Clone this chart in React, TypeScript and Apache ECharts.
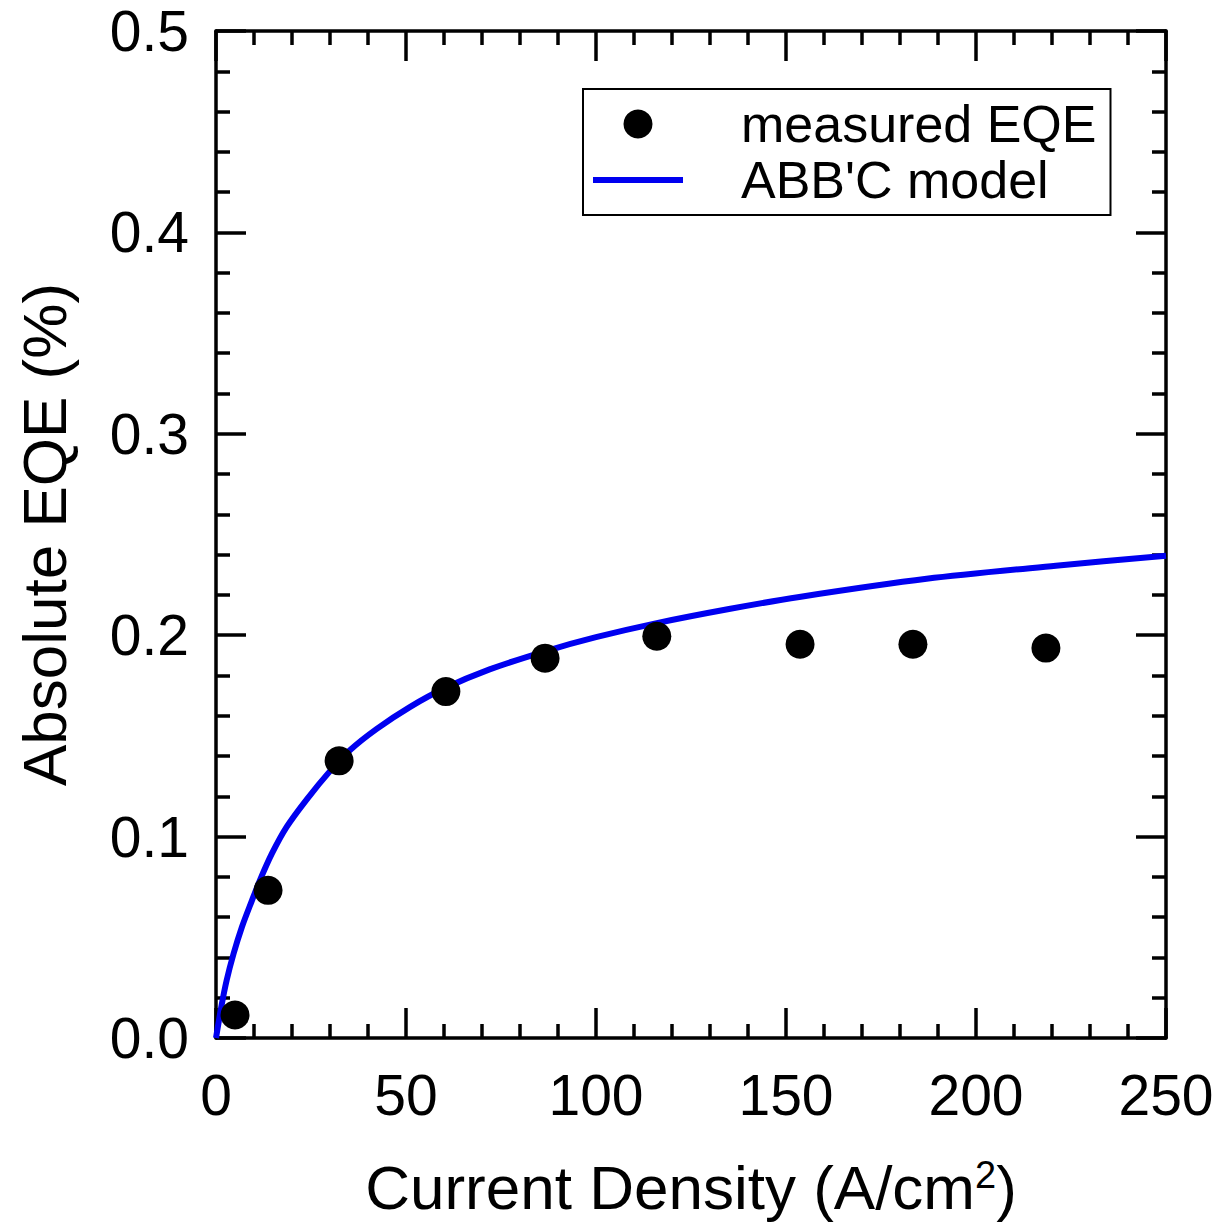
import React, { useEffect, useRef } from "react";
import * as echarts from "echarts";

// ---- data ----
const measuredJ = [5, 13.7, 32.4, 60.5, 86.6, 116, 153.7, 183.4, 218.4];
const measuredEQE = [0.0114, 0.0733, 0.1376, 0.172, 0.1886, 0.1995, 0.1955, 0.1955, 0.1936];

const modelJ = [0, 1.5, 2.8, 4.6, 6.8, 9.4, 11.6, 14.7, 18.6, 23.9, 30, 35.3, 42.3, 51, 60, 72, 86.6, 100, 116, 135, 153.5, 187, 221, 250];
const modelEQE = [0, 0.0165, 0.0286, 0.0417, 0.055, 0.068, 0.0785, 0.0915, 0.1048, 0.1185, 0.1325, 0.143, 0.1535, 0.1643, 0.1735, 0.183, 0.192, 0.199, 0.206, 0.213, 0.219, 0.228, 0.2345, 0.2395];

const xRange = [0, 250];
const xStep = 50;
const yRange = [0, 0.5];
const yStep = 0.1;

const seriesNames = ["measured EQE", "ABB'C model"];
const xTitle = "Current Density (A/cm{sup|2})";
const yTitle = "Absolute EQE (%)";

const FONT = "'Liberation Sans', Arial, sans-serif";

export default function App() {
  const ref = useRef<HTMLDivElement>(null);

  useEffect(() => {
    if (!ref.current) return;
    const chart = echarts.init(ref.current, null, { renderer: "svg" });

    const axisLine = { show: true, onZero: false, lineStyle: { color: "#000", width: 3.5 } };
    const axisTick = { show: true, inside: true, length: 30, lineStyle: { color: "#000", width: 3.5 } };
    const minorTick = { show: true, splitNumber: 5, length: 14, lineStyle: { color: "#000", width: 3.5 } };

    const scatterData = measuredJ.map((x, i) => [x, measuredEQE[i]]);
    const lineData = modelJ.map((x, i) => [x, modelEQE[i]]);

    chart.setOption({
      animation: false,
      backgroundColor: "#fff",
      grid: { left: 216, right: 65, top: 31, bottom: 182, containLabel: false },
      legend: {
        orient: "vertical",
        left: 583,
        top: 89,
        padding: [7, 14, 7, 10],
        itemWidth: 90,
        itemHeight: 29,
        itemGap: 0,
        symbolKeepAspect: true,
        borderColor: "#000",
        borderWidth: 2,
        backgroundColor: "#fff",
        textStyle: { fontSize: 52, fontFamily: FONT, color: "#000", padding: [0, 0, 0, 53], lineHeight: 56 },
        data: [
          { name: seriesNames[0], icon: "circle", itemStyle: { color: "#000", opacity: 1 } },
          { name: seriesNames[1], icon: "path://M0,0L90,0L90,6L0,6Z", itemStyle: { color: "#0000f0" } },
        ],
      },
      xAxis: [
        {
          type: "value",
          min: xRange[0],
          max: xRange[1],
          interval: xStep,
          position: "bottom",
          axisLine,
          axisTick,
          minorTick,
          splitLine: { show: false },
          axisLabel: { show: true, fontSize: 57, fontFamily: FONT, color: "#000", margin: 28 },
          name: xTitle,
          nameLocation: "middle",
          nameGap: 118,
          nameTextStyle: {
            fontSize: 62,
            fontFamily: FONT,
            color: "#000",
            rich: { sup: { fontSize: 38, fontFamily: FONT, color: "#000", verticalAlign: "top" } },
          },
        },
        {
          type: "value",
          min: xRange[0],
          max: xRange[1],
          interval: xStep,
          position: "top",
          axisLine,
          axisTick,
          minorTick,
          splitLine: { show: false },
          axisLabel: { show: false },
        },
      ],
      yAxis: [
        {
          type: "value",
          min: yRange[0],
          max: yRange[1],
          interval: yStep,
          position: "left",
          axisLine,
          axisTick,
          minorTick,
          splitLine: { show: false },
          axisLabel: {
            show: true,
            fontSize: 57,
            fontFamily: FONT,
            color: "#000",
            margin: 27,
            formatter: (v: number) => v.toFixed(1),
          },
          name: yTitle,
          nameLocation: "middle",
          nameGap: 141,
          nameTextStyle: { fontSize: 62, fontFamily: FONT, color: "#000" },
        },
        {
          type: "value",
          min: yRange[0],
          max: yRange[1],
          interval: yStep,
          position: "right",
          axisLine,
          axisTick,
          minorTick,
          splitLine: { show: false },
          axisLabel: { show: false },
        },
      ],
      series: [
        {
          name: seriesNames[1],
          type: "line",
          xAxisIndex: 0,
          yAxisIndex: 0,
          data: lineData,
          showSymbol: false,
          symbol: "none",
          smooth: 0.3,
          lineStyle: { color: "#0000f0", width: 6 },
          itemStyle: { color: "#0000f0" },
          z: 2,
        },
        {
          name: seriesNames[0],
          type: "scatter",
          xAxisIndex: 0,
          yAxisIndex: 0,
          data: scatterData,
          symbol: "circle",
          symbolSize: 29,
          itemStyle: { color: "#000", opacity: 1 },
          z: 3,
        },
      ],
    });

    return () => chart.dispose();
  }, []);

  return (
    <div
      ref={ref}
      style={{ position: "absolute", left: 0, top: 0, width: 1231, height: 1223, background: "#fff" }}
    />
  );
}
